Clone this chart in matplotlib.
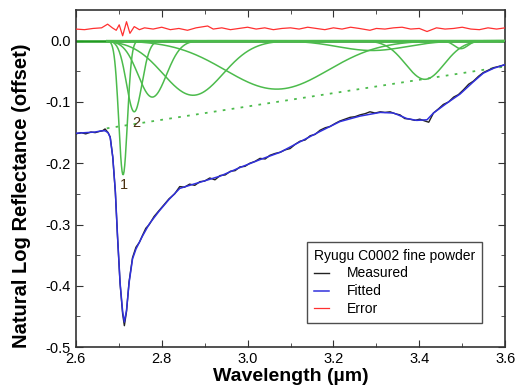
import numpy as np
import matplotlib.pyplot as plt

plt.rcParams['font.family'] = ['Liberation Sans', 'DejaVu Sans']

# Fitted spectrum (smooth)
fit_wl = [2.600, 2.623, 2.645, 2.660, 2.668, 2.675, 2.680, 2.686, 2.692, 2.697,
          2.703, 2.709, 2.713, 2.718, 2.724, 2.732, 2.740, 2.755, 2.771, 2.794,
          2.817, 2.842, 2.865, 2.889, 2.936, 2.982, 3.029, 3.076, 3.122, 3.169,
          3.215, 3.262, 3.309, 3.340, 3.371, 3.394, 3.418, 3.433, 3.464, 3.495,
          3.526, 3.549, 3.573, 3.600]
fit_val = [-0.151, -0.150, -0.149, -0.147, -0.147, -0.150, -0.158, -0.190, -0.246, -0.318,
           -0.395, -0.442, -0.459, -0.440, -0.395, -0.356, -0.340, -0.319, -0.299, -0.278,
           -0.259, -0.241, -0.236, -0.231, -0.221, -0.207, -0.194, -0.182, -0.165, -0.148,
           -0.132, -0.123, -0.117, -0.118, -0.127, -0.130, -0.129, -0.118, -0.102, -0.087,
           -0.067, -0.053, -0.045, -0.039]

# Measured spectrum (slightly noisy)
meas_wl = [2.600, 2.612, 2.623, 2.635, 2.645, 2.655, 2.662, 2.668, 2.675, 2.680,
           2.686, 2.692, 2.697, 2.703, 2.709, 2.713, 2.718, 2.724, 2.732, 2.740,
           2.748, 2.755, 2.763, 2.771, 2.782, 2.794, 2.805, 2.817, 2.830, 2.842,
           2.853, 2.865, 2.877, 2.889, 2.900, 2.912, 2.924, 2.936, 2.948, 2.960,
           2.971, 2.982, 2.994, 3.005, 3.017, 3.029, 3.041, 3.052, 3.064, 3.076,
           3.088, 3.099, 3.111, 3.122, 3.134, 3.146, 3.157, 3.169, 3.181, 3.192,
           3.204, 3.215, 3.227, 3.239, 3.250, 3.262, 3.274, 3.285, 3.297, 3.309,
           3.320, 3.332, 3.343, 3.355, 3.366, 3.378, 3.390, 3.401, 3.413, 3.422,
           3.433, 3.445, 3.456, 3.468, 3.480, 3.491, 3.503, 3.515, 3.526, 3.538,
           3.549, 3.561, 3.573, 3.585, 3.600]
meas_val = [-0.152, -0.150, -0.152, -0.149, -0.150, -0.148, -0.147, -0.144, -0.150, -0.157,
            -0.190, -0.247, -0.319, -0.396, -0.446, -0.465, -0.442, -0.393, -0.354, -0.337,
            -0.329, -0.318, -0.306, -0.300, -0.287, -0.277, -0.268, -0.258, -0.250, -0.238,
            -0.239, -0.234, -0.236, -0.230, -0.229, -0.224, -0.227, -0.220, -0.219, -0.213,
            -0.212, -0.206, -0.205, -0.200, -0.197, -0.192, -0.193, -0.187, -0.184, -0.182,
            -0.178, -0.176, -0.169, -0.164, -0.162, -0.155, -0.153, -0.146, -0.142, -0.140,
            -0.135, -0.131, -0.128, -0.125, -0.124, -0.121, -0.119, -0.116, -0.118, -0.116,
            -0.117, -0.116, -0.119, -0.121, -0.127, -0.128, -0.130, -0.128, -0.131, -0.133,
            -0.118, -0.111, -0.104, -0.100, -0.092, -0.088, -0.080, -0.071, -0.066, -0.058,
            -0.052, -0.048, -0.044, -0.042, -0.039]

# Error (residual, offset)
err_wl = [2.600, 2.620, 2.640, 2.660, 2.674, 2.685, 2.694, 2.701, 2.709, 2.718,
          2.726, 2.736, 2.748, 2.760, 2.780, 2.800, 2.820, 2.840, 2.860, 2.880,
          2.907, 2.920, 2.940, 2.960, 2.980, 3.000, 3.020, 3.040, 3.060, 3.080,
          3.100, 3.120, 3.140, 3.160, 3.180, 3.200, 3.220, 3.240, 3.260, 3.285,
          3.300, 3.320, 3.340, 3.360, 3.380, 3.400, 3.418, 3.440, 3.460, 3.480,
          3.500, 3.520, 3.540, 3.560, 3.580, 3.600]
err_val = [0.019, 0.018, 0.020, 0.021, 0.027, 0.021, 0.017, 0.026, 0.008, 0.031,
           0.012, 0.023, 0.018, 0.021, 0.019, 0.022, 0.018, 0.020, 0.017, 0.021,
           0.024, 0.019, 0.021, 0.018, 0.020, 0.022, 0.019, 0.021, 0.018, 0.020,
           0.021, 0.019, 0.022, 0.020, 0.018, 0.021, 0.019, 0.022, 0.020, 0.017,
           0.020, 0.019, 0.021, 0.022, 0.019, 0.020, 0.015, 0.021, 0.019, 0.020,
           0.022, 0.019, 0.018, 0.021, 0.019, 0.021]

# Gaussian band components: centre (um), depth, width (sigma, um)
band_center = [2.710, 2.736, 2.778, 2.873, 3.068, 3.290, 3.413, 3.497]
band_depth = [0.219, 0.116, 0.092, 0.089, 0.079, 0.016, 0.063, 0.013]
band_width = [0.010, 0.018, 0.033, 0.070, 0.120, 0.080, 0.045, 0.016]

# Linear continuum (dotted)
cont_wl = [2.672, 3.600]
cont_val = [-0.143, -0.042]

fig = plt.figure(figsize=(5.16, 3.87), dpi=100)
ax = fig.add_axes([0.147, 0.103, 0.832, 0.871])

green = '#4cbb4c'
ax.plot([2.6, 3.6], [0, 0], color='#1f9a1f', lw=1.8, zorder=2)
wl = np.linspace(2.672, 3.6, 600)
for c, d, w in zip(band_center, band_depth, band_width):
    ax.plot(wl, -d * np.exp(-(wl - c) ** 2 / (2 * w ** 2)), color=green, lw=1.1, zorder=3)
ax.plot(cont_wl, cont_val, color=green, lw=1.3, ls=(0, (1.5, 3.5)), zorder=3)

l1, = ax.plot(meas_wl, meas_val, color='#222222', lw=1.0, zorder=4)
l2, = ax.plot(fit_wl, fit_val, color='#3030dd', lw=1.1, zorder=5)
l3, = ax.plot(err_wl, err_val, color='#ff3030', lw=0.9, zorder=4)

ax.text(2.712, -0.235, '1', fontsize=10.5, color='#4a3010', ha='center', va='center')
ax.text(2.741, -0.134, '2', fontsize=10.5, color='#4a3010', ha='center', va='center')

ax.set_xlim(2.6, 3.6)
ax.set_ylim(-0.5, 0.05)
ax.set_xticks(np.arange(2.6, 3.61, 0.2))
ax.set_xticks(np.arange(2.7, 3.6, 0.2), minor=True)
ax.set_yticks(np.arange(-0.5, 0.01, 0.1))
ax.set_yticks(np.arange(-0.45, 0.04, 0.1), minor=True)
ax.set_xticklabels(['2.6', '2.8', '3.0', '3.2', '3.4', '3.6'])
ax.set_yticklabels(['-0.5', '-0.4', '-0.3', '-0.2', '-0.1', '0.0'])
ax.tick_params(which='both', direction='in', top=True, right=True, labelsize=10.5, color='#333333')
ax.tick_params(which='major', length=5)
ax.tick_params(which='minor', length=3)
for s in ax.spines.values():
    s.set_color('#333333')
    s.set_linewidth(1.2)

ax.set_xlabel('Wavelength (\u00b5m)', fontsize=14, fontweight='bold', labelpad=1.5)
ax.set_ylabel('Natural Log Reflectance (offset)', fontsize=14.5, fontweight='bold')
ax.yaxis.set_label_coords(-0.104, 0.45)

leg = ax.legend([l1, l2, l3], ['Measured', 'Fitted', 'Error'], title='Ryugu C0002 fine powder',
                loc='lower right', bbox_to_anchor=(0.946, 0.071), fontsize=10, title_fontsize=10,
                frameon=True, fancybox=False, handlelength=1.1, handletextpad=1.3,
                borderpad=0.5, labelspacing=0.28, borderaxespad=0)
leg.get_frame().set_edgecolor('#222222')
leg.get_frame().set_linewidth(1.0)
leg._legend_box.align = 'left'

fig.savefig('out.png', dpi=100)
